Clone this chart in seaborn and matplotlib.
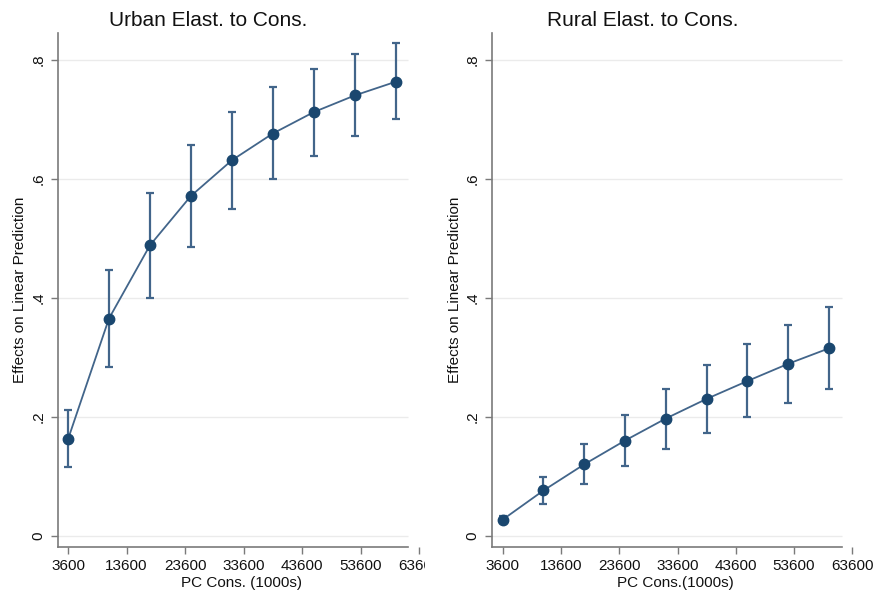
import numpy as np
import pandas as pd
import matplotlib
matplotlib.use("Agg")
import matplotlib.pyplot as plt
import seaborn as sns
from matplotlib.transforms import Bbox, TransformedBbox

# ---- data ----
pc_cons = [3600, 10600, 17600, 24600, 31600, 38600, 45600, 52600, 59600]
urban_est = [0.162, 0.365, 0.488, 0.571, 0.631, 0.676, 0.712, 0.740, 0.763]
urban_lo = [0.115, 0.283, 0.400, 0.485, 0.549, 0.599, 0.639, 0.672, 0.700]
urban_hi = [0.212, 0.447, 0.576, 0.657, 0.713, 0.754, 0.784, 0.809, 0.828]
rural_est = [0.027, 0.076, 0.120, 0.160, 0.197, 0.230, 0.260, 0.289, 0.315]
rural_lo = [0.021, 0.053, 0.087, 0.117, 0.146, 0.173, 0.199, 0.223, 0.246]
rural_hi = [0.033, 0.098, 0.154, 0.203, 0.247, 0.287, 0.323, 0.355, 0.385]
x_ticks = [3600, 13600, 23600, 33600, 43600, 53600, 63600]
y_ticks = [0, 0.2, 0.4, 0.6, 0.8]
y_tick_labels = ["0", ".2", ".4", ".6", ".8"]
titles = ["Urban Elast. to Cons.", "Rural Elast. to Cons."]
x_labels = ["PC Cons. (1000s)", "PC Cons.(1000s)"]
y_label = "Effects on Linear Prediction"

sns.set_theme(style="white")
plt.rcParams["font.family"] = ["Liberation Sans", "DejaVu Sans"]

W, H = 878, 599
fig = plt.figure(figsize=(W / 100, H / 100), dpi=100)
fig.patch.set_facecolor("white")

marker_c = "#1a476f"
line_c = "#42658a"
grid_c = "#ebebeb"
spine_c = "#7a7a7a"

panels = [
    dict(est=urban_est, lo=urban_lo, hi=urban_hi, left_px=58.0, xmin=1891, spine_end=61720,
         xmax=64500, right_px=424.3, title_x=208, ylab_x=20, clip_px=425),
    dict(est=rural_est, lo=rural_lo, hi=rural_hi, left_px=492.3, xmin=1815, spine_end=61880,
         xmax=64500, right_px=857.6, title_x=643, ylab_x=455, clip_px=None),
]

ymin, ymax = -0.019, 0.845
top_px, bot_px = 33, 547

for i, p in enumerate(panels):
    ax = fig.add_axes([p["left_px"] / W, 1 - bot_px / H,
                       (p["right_px"] - p["left_px"]) / W, (bot_px - top_px) / H])
    ax.set_facecolor("white")
    ax.set_xlim(p["xmin"], p["xmax"])
    ax.set_ylim(ymin, ymax)

    # gridlines
    for yt in y_ticks:
        ax.hlines(yt, p["xmin"], p["spine_end"], color=grid_c, lw=1.0, zorder=0)

    df = pd.DataFrame({"x": pc_cons, "y": p["est"]})
    est = np.array(p["est"])
    lo = np.array(p["lo"])
    hi = np.array(p["hi"])
    ax.errorbar(pc_cons, est, yerr=[est - lo, hi - est], fmt="none",
                ecolor=line_c, elinewidth=1.6, capsize=3.2, capthick=1.6, zorder=2)
    sns.lineplot(data=df, x="x", y="y", ax=ax, color=line_c, lw=1.3, zorder=3)
    ax.plot(pc_cons, est, "o", color=marker_c, ms=7.5, mec=marker_c, zorder=4)

    for s in ["top", "right"]:
        ax.spines[s].set_visible(False)
    for s in ["left", "bottom"]:
        ax.spines[s].set_color(spine_c)
        ax.spines[s].set_linewidth(1.2)
    ax.spines["bottom"].set_bounds(p["xmin"], p["spine_end"])
    ax.spines["left"].set_bounds(ymin, ymax)

    ax.set_xticks(x_ticks)
    ax.set_xticklabels([str(v) for v in x_ticks])
    ax.set_yticks(y_ticks)
    ax.set_yticklabels(y_tick_labels, rotation=90, va="center")
    ax.tick_params(axis="both", which="both", direction="out", length=5, width=1.0,
                   color=spine_c, labelsize=11, labelcolor="#111111", pad=4,
                   bottom=True, left=True)
    ax.set_xlabel(x_labels[i], fontsize=11, color="#111111", labelpad=2)
    ax.set_ylabel("")
    fig.text(p["ylab_x"] / W, 1 - 290 / H, y_label, rotation=90, fontsize=11,
             ha="center", va="center", color="#111111")
    fig.text(p["title_x"] / W, 1 - 20 / H, titles[i], fontsize=15,
             ha="center", va="center", color="#111111")
    ax.grid(False)

    if p["clip_px"] is not None:
        clipbox = TransformedBbox(Bbox([[0, 0], [p["clip_px"] / W, 1]]), fig.transFigure)
        for lab in ax.get_xticklabels():
            lab.set_clip_on(True)
            lab.set_clip_box(clipbox)

fig.savefig("out.png", dpi=100, facecolor="white")
